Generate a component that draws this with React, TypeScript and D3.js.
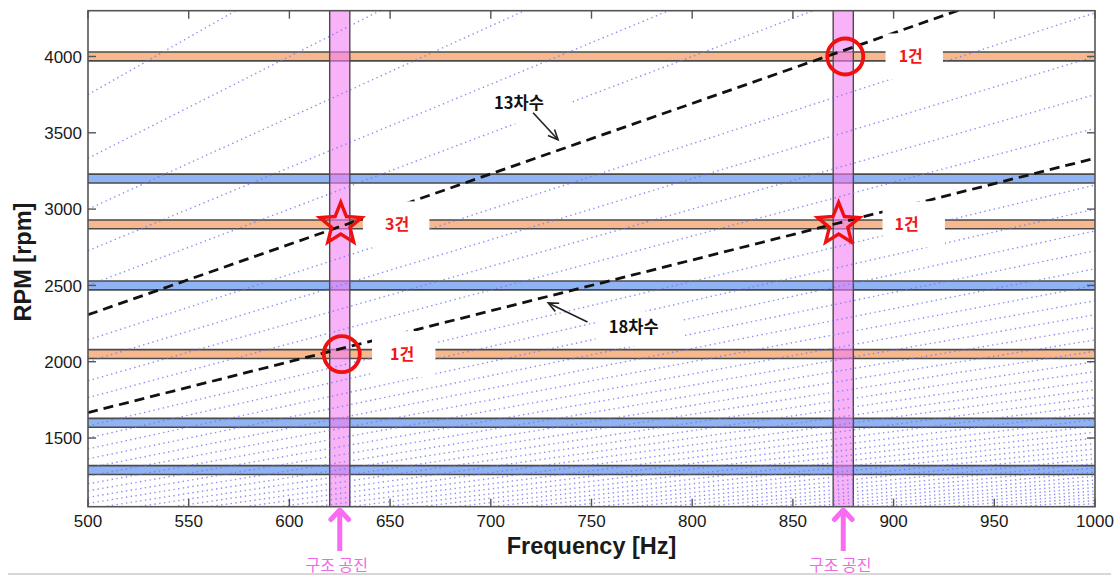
import React from 'react';
import * as d3 from 'd3';

const W = 1119;
const H = 577;

// axis domains and ticks
const freqDomain = [500, 1000];
const rpmDomain = [1050, 4300];
const freqTicks = [500, 550, 600, 650, 700, 750, 800, 850, 900, 950, 1000];
const rpmTicks = [1500, 2000, 2500, 3000, 3500, 4000];

// engine orders drawn as dotted lines (rpm = 60 * f / order)
const harmonicOrders = [
  7, 8, 9, 10, 11, 12, 14, 15, 16, 17, 19, 20, 21, 22, 23, 24, 25, 26, 27, 28,
  29, 30, 31, 32, 33, 34, 35, 36, 37, 38, 39, 40, 41, 42, 43, 44, 45, 46, 47,
  48, 49, 50, 51, 52, 53, 54, 55, 56, 57, 58, 59, 60,
];
const keyOrders = [13, 18];

// operating speed bands (rpm)
const orangeBandRpm = [4000, 2900, 2050];
const blueBandRpm = [3200, 2500, 1600, 1290];
const bandHalfRpm = 29;

// structural resonance ranges (Hz)
const resonanceRanges = [[620, 630], [870, 880]];
const resonanceLabel = '구조 공진';

// hit markers
const circleHits = [{ f: 626, rpm: 2050 }, { f: 876, rpm: 4000 }];
const starHits = [{ f: 625.5, rpm: 2900 }, { f: 872.7, rpm: 2900 }];

// count labels: text, centre and the gap they cut in the band (Hz)
const countLabels = [
  { text: '3건', f: 653.5, rpm: 2900, f0: 636.5, f1: 669.5 },
  { text: '1건', f: 656, rpm: 2050, f0: 641, f1: 672.5 },
  { text: '1건', f: 908.5, rpm: 4000, f0: 896, f1: 924.5 },
  { text: '1건', f: 906.5, rpm: 2900, f0: 894.5, f1: 925.5 },
];

// order annotations
const orderNotes = [
  { text: '13차수', f: 714, rpm: 3696, from: [721, 3631], to: [733.4, 3454], box: [708, 3770, 740, 3560] },
  { text: '18차수', f: 771, rpm: 2228, from: [748, 2260], to: [728.5, 2385], box: [752, 2330, 795, 2100] },
];

const tickFont = '"Liberation Sans", Arial, sans-serif';
const krFont = '"Noto Sans CJK KR", "Liberation Sans", sans-serif';

export default function App() {
  const x = d3.scaleLinear().domain(freqDomain).range([88, 1095]);
  const y = d3.scaleLinear().domain(rpmDomain).range([506.7, 10.7]);
  const [x0, x1] = x.range();
  const [yb, yt] = y.range();

  const orderLine = (n: number) =>
    d3.line<number>().x(f => x(f)).y(f => y((60 * f) / n))(freqDomain) || '';

  const starPath = (cx: number, cy: number, r: number) => {
    const pts = d3.range(10).map(i => {
      const a = -Math.PI / 2 + (i * Math.PI) / 5;
      const rr = i % 2 === 0 ? r : r * 0.44;
      return [cx + rr * Math.cos(a), cy + rr * Math.sin(a)] as [number, number];
    });
    return d3.line()(pts) + 'Z';
  };

  const arrowHead = (fx: number, fy: number, tx: number, ty: number, len: number, ang: number) => {
    const a = Math.atan2(ty - fy, tx - fx);
    const p1 = [tx - len * Math.cos(a - ang), ty - len * Math.sin(a - ang)];
    const p2 = [tx - len * Math.cos(a + ang), ty - len * Math.sin(a + ang)];
    return `M${p1[0]},${p1[1]}L${tx},${ty}L${p2[0]},${p2[1]}`;
  };

  const band = (rpm: number, fill: string, key: string) => {
    const top = y(rpm + bandHalfRpm);
    const bot = y(rpm - bandHalfRpm);
    return (
      <g key={key}>
        <rect x={x0} y={top} width={x1 - x0} height={bot - top} fill={fill} />
        <line x1={x0} x2={x1} y1={top} y2={top} stroke="#4a4a4a" strokeWidth={1.6} />
        <line x1={x0} x2={x1} y1={bot} y2={bot} stroke="#4a4a4a" strokeWidth={1.6} />
      </g>
    );
  };

  return (
    <div style={{ position: 'absolute', left: 0, top: 0 }}>
      <svg width={W} height={H} style={{ display: 'block', background: '#fff' }}>
        <defs>
          <clipPath id="plot">
            <rect x={x0} y={yt} width={x1 - x0} height={yb - yt} />
          </clipPath>
        </defs>

        <g clipPath="url(#plot)">
          {orangeBandRpm.map((r, i) => band(r, '#f8b88e', 'o' + i))}
          {blueBandRpm.map((r, i) => band(r, '#8fb3f3', 'b' + i))}

          {resonanceRanges.map(([a, b], i) => (
            <g key={'res' + i}>
              <rect x={x(a)} y={yt} width={x(b) - x(a)} height={yb - yt} fill="#f47ef2" opacity={0.6} />
              <line x1={x(a)} x2={x(a)} y1={yt} y2={yb} stroke="#4a4a4a" strokeWidth={1.4} />
              <line x1={x(b)} x2={x(b)} y1={yt} y2={yb} stroke="#4a4a4a" strokeWidth={1.4} />
            </g>
          ))}

          {harmonicOrders.map(n => (
            <path key={'h' + n} d={orderLine(n)} fill="none" stroke="#7272f2"
              strokeWidth={1.4} strokeDasharray="1.4 3.4" opacity={0.8} />
          ))}
          {keyOrders.map(n => (
            <path key={'k' + n} d={orderLine(n)} fill="none" stroke="#111"
              strokeWidth={2.8} strokeDasharray="10 6" />
          ))}

          {countLabels.map((d, i) => (
            <rect key={'cb' + i} x={x(d.f0)} y={y(d.rpm) - 23} width={x(d.f1) - x(d.f0)} height={46} fill="#fff" />
          ))}
          {orderNotes.map((d, i) => (
            <rect key={'nb' + i} x={x(d.box[0])} y={y(d.box[1])} width={x(d.box[2]) - x(d.box[0])}
              height={y(d.box[3]) - y(d.box[1])} fill="#fff" />
          ))}
        </g>

        {countLabels.map((d, i) => (
          <text key={'ct' + i} x={x(d.f)} y={y(d.rpm)} dy="0.36em" textAnchor="middle"
            fontFamily={krFont} fontWeight="bold" fontSize={16} fill="#f01818">{d.text}</text>
        ))}

        {orderNotes.map((d, i) => {
          const fx = x(d.from[0]), fy = y(d.from[1]), tx = x(d.to[0]), ty = y(d.to[1]);
          return (
            <g key={'on' + i}>
              <text x={x(d.f)} y={y(d.rpm)} dy="0.36em" textAnchor="middle"
                fontFamily={krFont} fontWeight="bold" fontSize={16.5} fill="#111">{d.text}</text>
              <line x1={fx} y1={fy} x2={tx} y2={ty} stroke="#222" strokeWidth={1.6} />
              <path d={arrowHead(fx, fy, tx, ty, 11, 0.42)} fill="none" stroke="#222" strokeWidth={1.6} />
            </g>
          );
        })}

        {circleHits.map((d, i) => (
          <circle key={'c' + i} cx={x(d.f)} cy={y(d.rpm)} r={18} fill="none" stroke="#f01010" strokeWidth={3.8} />
        ))}
        {starHits.map((d, i) => (
          <path key={'s' + i} d={starPath(x(d.f), y(d.rpm), 22)} fill="none" stroke="#f01010"
            strokeWidth={3.4} strokeLinejoin="miter" />
        ))}

        {/* frame and ticks */}
        <rect x={x0} y={yt} width={x1 - x0} height={yb - yt} fill="none" stroke="#555" strokeWidth={1.6} />
        {freqTicks.map(t => (
          <g key={'xt' + t}>
            <line x1={x(t)} x2={x(t)} y1={yb} y2={yb - 8} stroke="#555" strokeWidth={1.4} />
            <line x1={x(t)} x2={x(t)} y1={yt} y2={yt + 8} stroke="#555" strokeWidth={1.4} />
            <text x={x(t)} y={yb + 20} textAnchor="middle" fontFamily={tickFont} fontSize={17} fill="#1a1a1a">{t}</text>
          </g>
        ))}
        {rpmTicks.map(t => (
          <g key={'yt' + t}>
            <line x1={x0} x2={x0 + 8} y1={y(t)} y2={y(t)} stroke="#555" strokeWidth={1.4} />
            <line x1={x1} x2={x1 - 8} y1={y(t)} y2={y(t)} stroke="#555" strokeWidth={1.4} />
            <text x={x0 - 6} y={y(t)} dy="0.36em" textAnchor="end" fontFamily={tickFont} fontSize={17} fill="#1a1a1a">{t}</text>
          </g>
        ))}

        <text x={(x0 + x1) / 2} y={554} textAnchor="middle" fontFamily={tickFont} fontWeight="bold"
          fontSize={23.5} fill="#1a1a1a">Frequency [Hz]</text>
        <text transform={`translate(31,${262}) rotate(-90)`} textAnchor="middle" fontFamily={tickFont}
          fontWeight="bold" fontSize={23.5} fill="#1a1a1a">RPM [rpm]</text>

        {/* resonance arrows below the axis */}
        <line x1={8} x2={1111} y1={574} y2={574} stroke="#b0b0b0" strokeWidth={1.2} />
        {resonanceRanges.map(([a, b], i) => {
          const cx = x((a + b) / 2);
          return (
            <g key={'ra' + i}>
              <line x1={cx} x2={cx} y1={551} y2={511} stroke="#f76cf0" strokeWidth={5} />
              <path d={arrowHead(cx, 551, cx, 510, 13, 0.75)} fill="none" stroke="#f76cf0"
                strokeWidth={5} strokeLinecap="round" strokeLinejoin="round" />
              <text x={cx - 3} y={565} dy="0.36em" textAnchor="middle" fontFamily={krFont}
                fontSize={16} fill="#f06ae8">{resonanceLabel}</text>
            </g>
          );
        })}
      </svg>
    </div>
  );
}
